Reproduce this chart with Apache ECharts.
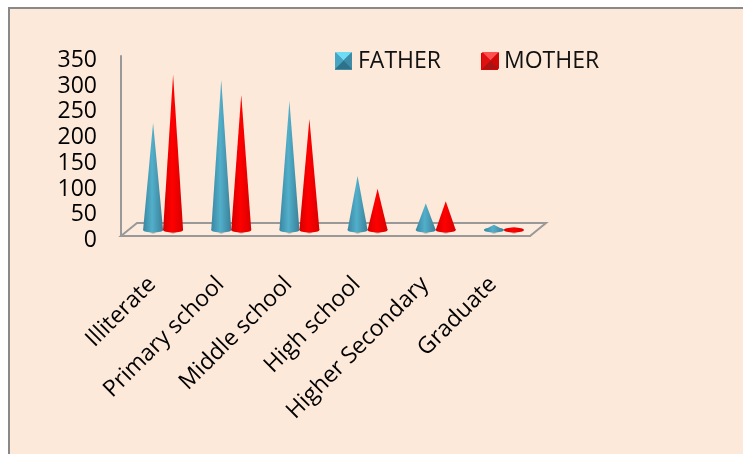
<!DOCTYPE html>
<html>
<head>
<meta charset="utf-8">
<script src="https://cdn.jsdelivr.net/npm/echarts@6/dist/echarts.min.js"></script>
<style>
  html, body { margin: 0; padding: 0; background: #fff; overflow: hidden; }
  #frame { position: absolute; left: 8px; top: 7px; width: 740px; height: 450px; background: #fde9d9; border: 2px solid #898989; }
  #chart { position: absolute; left: 0; top: 0; width: 743px; height: 454px; }
</style>
</head>
<body>
<div id="frame"></div>
<div id="chart"></div>
<script>
const categories = ['Illiterate', 'Primary school', 'Middle school', 'High school', 'Higher Secondary', 'Graduate'];
const fatherValues = [208, 292, 251, 105, 52, 10];
const motherValues = [302, 263, 216, 80, 56, 5];

const FONT = '"Open Sans"';

function gradient(edgeL, mid, edgeR) {
  return new echarts.graphic.LinearGradient(0, 0, 1, 0, [
    { offset: 0, color: edgeL },
    { offset: 0.45, color: mid },
    { offset: 1, color: edgeR }
  ]);
}

// cone standing on the floor of the fake 3d box
function coneItem(shift, colors) {
  return function (params, api) {
    const p = api.coord([api.value(0), api.value(1)]);
    const base = api.coord([api.value(0), 0]);
    const cx = p[0] + shift;
    const by = base[1] - 6;
    const ty = p[1] - 6;
    const r = 10;
    const fill = gradient(colors[0], colors[1], colors[2]);
    return {
      type: 'group',
      children: [
        {
          type: 'ellipse',
          shape: { cx: cx, cy: by + 1, rx: r + 10, ry: 3.5 },
          style: {
            fill: new echarts.graphic.RadialGradient(0.5, 0.5, 0.5, [
              { offset: 0, color: 'rgba(80,70,65,0.75)' },
              { offset: 1, color: 'rgba(80,70,65,0)' }
            ])
          }
        },
        { type: 'polygon', shape: { points: [[cx, ty], [cx + r, by], [cx - r, by]] }, style: { fill: fill } },
        { type: 'ellipse', shape: { cx: cx, cy: by, rx: r, ry: 2.5 }, style: { fill: fill } }
      ]
    };
  };
}

function floorItem(params, api) {
  const g = params.coordSys;
  const bottom = g.y + g.height;
  return {
    type: 'polygon',
    shape: { points: [[g.x, bottom], [g.x + g.width, bottom], [g.x + g.width + 16, bottom - 13], [g.x + 16, bottom - 13]] },
    style: { fill: 'rgba(255,255,255,0.12)', stroke: '#999', lineWidth: 2 }
  };
}

function bevel(x, y, s, light, top, bottom, side) {
  const c = [x + s / 2, y + s / 2];
  const tri = (a, b, fill) => ({ type: 'polygon', shape: { points: [a, b, c] }, style: { fill: fill }, silent: true });
  return [
    tri([x, y], [x + s, y], top),
    tri([x + s, y], [x + s, y + s], side),
    tri([x + s, y + s], [x, y + s], bottom),
    tri([x, y + s], [x, y], light)
  ];
}

const chart = echarts.init(document.getElementById('chart'), null, { renderer: 'canvas' });
chart.setOption({
  animation: false,
  backgroundColor: 'transparent',
  textStyle: { fontFamily: FONT },
  grid: { left: 121, right: 213, top: 56, bottom: 218 },
  legend: {
    data: ['FATHER', 'MOTHER'],
    left: 335,
    top: 50,
    padding: 0,
    icon: 'rect',
    itemWidth: 17,
    itemHeight: 17,
    itemGap: 40,
    textStyle: { fontFamily: FONT, fontSize: 23, color: '#111', padding: [0, 0, 0, 1] }
  },
  xAxis: {
    type: 'category',
    data: categories,
    axisTick: { show: false },
    axisLine: { show: true, lineStyle: { color: '#999', width: 2 } },
    axisLabel: { rotate: 45, interval: 0, margin: 42, fontFamily: FONT, fontSize: 23, color: '#000', padding: [0, 4, 0, 0] }
  },
  yAxis: {
    type: 'value',
    min: 0,
    max: 350,
    interval: 50,
    splitLine: { show: false },
    axisTick: { show: false },
    axisLine: { show: true, lineStyle: { color: '#999', width: 2 } },
    axisLabel: { margin: 24, fontFamily: FONT, fontSize: 23, color: '#000', verticalAlign: 'top', lineHeight: 9 }
  },
  graphic: {
    elements: bevel(335, 52, 17, '#45a5c2', '#6fdcf5', '#2f7188', '#3d8ba6')
      .concat(bevel(482, 52, 17, '#e01010', '#ff5050', '#a81414', '#d00808'))
      .map(e => Object.assign(e, { z: 200 }))
  },
  series: [
    {
      type: 'custom',
      name: 'floor',
      data: [[0, 0]],
      z: 1,
      silent: true,
      clip: false,
      renderItem: floorItem
    },
    {
      type: 'custom',
      name: 'FATHER',
      data: fatherValues.map((v, i) => [i, v]),
      z: 2,
      clip: false,
      itemStyle: { color: '#3f8fab' },
      renderItem: coneItem(-2, ['#3a86a2', '#52afca', '#3b7f98'])
    },
    {
      type: 'custom',
      name: 'MOTHER',
      data: motherValues.map((v, i) => [i, v]),
      z: 3,
      clip: false,
      itemStyle: { color: '#e00000' },
      renderItem: coneItem(18, ['#d40000', '#ff0000', '#d80000'])
    }
  ]
});
</script>
</body>
</html>
